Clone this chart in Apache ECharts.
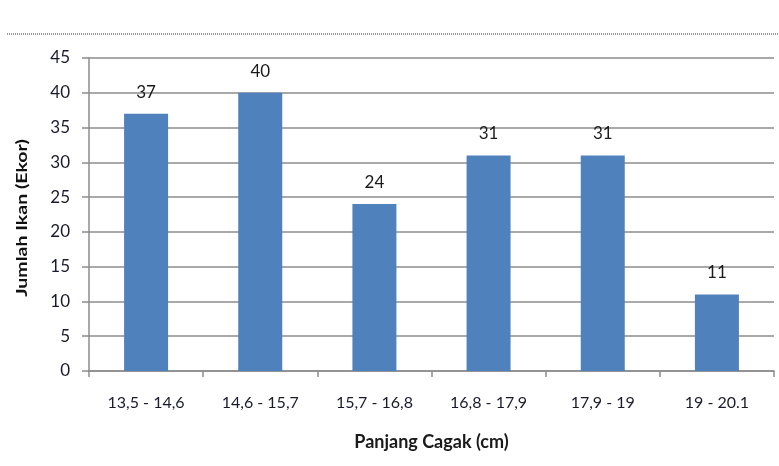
<!DOCTYPE html>
<html>
<head>
<meta charset="utf-8">
<script src="https://cdn.jsdelivr.net/npm/echarts@6/dist/echarts.min.js"></script>
<style>
  html, body { margin: 0; padding: 0; background: #fff; }
  #chart { width: 779px; height: 466px; }
</style>
</head>
<body>
<div id="chart"></div>
<script>
// Fork length classes (cm) and number of fish caught in each class
const categories = ['13,5 - 14,6', '14,6 - 15,7', '15,7 - 16,8', '16,8 - 17,9', '17,9 - 19', '19 - 20.1'];
const counts = [37, 40, 24, 31, 31, 11];
const yMin = 0, yMax = 45, yStep = 5;

const FONT = 'Lato, "Open Sans", sans-serif';

const chart = echarts.init(document.getElementById('chart'), null, { renderer: 'canvas' });
chart.setOption({
  animation: false,
  backgroundColor: '#ffffff',
  textStyle: { fontFamily: FONT },
  grid: { left: 89, right: 5, top: 58, bottom: 95, containLabel: false },
  graphic: [
    {
      // dotted rule above the chart
      type: 'line',
      shape: { x1: 7, y1: 34, x2: 779, y2: 34 },
      style: { stroke: '#9a9a9a', lineWidth: 2, lineDash: [1, 1] },
      silent: true
    },
    {
      // vertical axis title, stretched along its baseline
      type: 'text',
      x: 22, y: 218,
      rotation: Math.PI / 2,
      scaleX: 1.22,
      style: {
        text: 'Jumlah Ikan (Ekor)',
        font: 'bold 16px ' + FONT,
        fill: '#111',
        align: 'center',
        verticalAlign: 'middle'
      },
      silent: true
    }
  ],
  xAxis: {
    type: 'category',
    data: categories,
    name: 'Panjang Cagak (cm)',
    nameLocation: 'middle',
    nameGap: 62,
    nameTextStyle: { fontFamily: FONT, fontSize: 18, fontWeight: 'bold', color: '#1a1a1a' },
    axisLine: { show: true, lineStyle: { color: '#8c8c8c', width: 1.5 } },
    axisTick: { show: true, alignWithLabel: false, length: 6, inside: false, lineStyle: { color: '#8c8c8c', width: 1.5 } },
    axisLabel: { fontFamily: FONT, fontSize: 16, color: '#1a1a2e', margin: 24 },
    splitLine: { show: false }
  },
  yAxis: {
    type: 'value',
    min: yMin, max: yMax, interval: yStep,
    axisLine: { show: true, lineStyle: { color: '#8c8c8c', width: 1.5 } },
    axisTick: { show: true, length: 7, lineStyle: { color: '#8c8c8c', width: 1.5 } },
    axisLabel: { fontFamily: FONT, fontSize: 17, color: '#1a1a2e', margin: 19 },
    splitLine: { show: true, lineStyle: { color: '#8c8c8c', width: 1.5 } }
  },
  series: [{
    type: 'bar',
    data: counts,
    barWidth: 44,
    itemStyle: { color: '#4f81bd' },
    label: {
      show: true,
      position: 'top',
      distance: 13,
      fontFamily: FONT,
      fontSize: 17,
      color: '#1a1a1a'
    }
  }]
});
</script>
</body>
</html>
